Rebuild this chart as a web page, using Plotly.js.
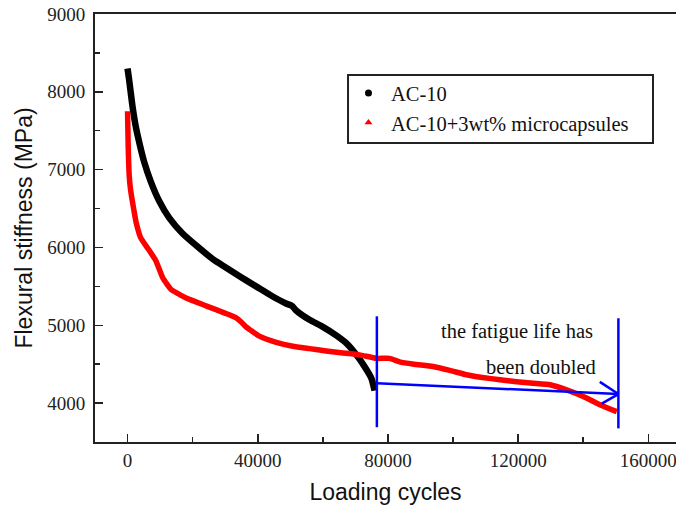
<!DOCTYPE html>
<html><head><meta charset="utf-8">
<script src="https://cdn.plot.ly/plotly-3.0.1.min.js"></script>
<style>html,body{margin:0;padding:0;background:#fff}#chart{width:676px;height:510px}</style>
</head><body><div id="chart"></div>
<script>
// AC-10 series (loading cycles, flexural stiffness MPa)
var acCycles = [0, 500, 1500, 2500, 3600, 5100, 7200, 9800, 12800, 16900, 22100, 26200, 30300, 34400, 39500, 44600, 48700, 50500, 51800, 55900, 60000, 64100, 67200, 70300, 72800, 74900, 75900];
var acStiff  = [8300, 8150, 7820, 7560, 7350, 7100, 6840, 6590, 6380, 6180, 5990, 5850, 5740, 5630, 5500, 5370, 5280, 5250, 5190, 5070, 4980, 4870, 4770, 4620, 4470, 4320, 4160];
// AC-10 + 3wt% microcapsules series
var mcCycles = [0, 200, 500, 900, 1500, 2600, 4100, 6200, 8700, 10800, 13400, 18000, 24100, 30300, 33400, 35000, 36400, 40500, 45700, 50800, 55900, 61000, 66200, 71300, 76400, 80500, 83600, 88000, 93800, 99000, 104100, 109000, 114400, 119500, 124600, 129800, 134900, 140000, 145100, 150300];
var mcStiff  = [7750, 7300, 6930, 6750, 6590, 6330, 6120, 5990, 5830, 5610, 5460, 5350, 5250, 5150, 5095, 5040, 4980, 4860, 4780, 4730, 4700, 4670, 4645, 4620, 4575, 4575, 4530, 4500, 4470, 4420, 4365, 4330, 4300, 4275, 4255, 4235, 4170, 4085, 3980, 3890];
var seriesNames = ["AC-10", "AC-10+3wt% microcapsules"];
var xTicks = [0, 40000, 80000, 120000, 160000];
var yTicks = [4000, 5000, 6000, 7000, 8000, 9000];
// fatigue-life markers (cycles at failure) and annotation text
var failCycles = [76600, 150800];
var noteLines = ["the fatigue life has", "been doubled"];

var serif = "Liberation Serif, Times New Roman, serif";
var sans = "Liberation Sans, Arial, sans-serif";

var traces = [
  {x: acCycles, y: acStiff, mode: "lines", line: {color: "#000", width: 6.5, shape: "spline", smoothing: 0.6}, showlegend: false, hoverinfo: "skip"},
  {x: mcCycles, y: mcStiff, mode: "lines", line: {color: "#ff0000", width: 5.5, shape: "spline", smoothing: 0.4}, showlegend: false, hoverinfo: "skip"},
  {x: [null], y: [null], mode: "markers", name: seriesNames[0], marker: {color: "#000", size: 7, symbol: "circle"}},
  {x: [null], y: [null], mode: "markers", name: seriesNames[1], marker: {color: "#ff0000", size: 7, symbol: "triangle-up"}}
];

var blue = "#0000ff";
var shapes = [
  {type: "line", xref: "x", yref: "y", x0: failCycles[0], x1: failCycles[0], y0: 3690, y1: 5115, line: {color: blue, width: 2.5}},
  {type: "line", xref: "x", yref: "y", x0: failCycles[1], x1: failCycles[1], y0: 3675, y1: 5090, line: {color: blue, width: 2.5}},
  {type: "line", xref: "x", yref: "y", x0: failCycles[0], x1: failCycles[1], y0: 4256, y1: 4116, line: {color: blue, width: 2.5}},
  {type: "line", xref: "x", yref: "y", x0: 145100, x1: failCycles[1], y0: 4273, y1: 4116, line: {color: blue, width: 2.5}},
  {type: "line", xref: "x", yref: "y", x0: 145700, x1: failCycles[1], y0: 3993, y1: 4116, line: {color: blue, width: 2.5}},
  // legend frame
  {type: "rect", xref: "paper", yref: "paper", x0: 0.4355, x1: 0.9604, y0: 0.6986, y1: 0.8575, line: {color: "#222", width: 2}, fillcolor: "rgba(0,0,0,0)", layer: "above"}
];

var layout = {
  width: 676, height: 510,
  margin: {l: 95, r: 0, t: 14, b: 68},
  paper_bgcolor: "#fff", plot_bgcolor: "#fff",
  showlegend: true,
  xaxis: {
    range: [-10000, 168500], tickvals: xTicks, tickformat: "d",
    ticks: "inside", ticklen: 8, tickwidth: 1.5, tickcolor: "#222",
    minor: {dtick: 20000, tick0: 0, ticks: "inside", ticklen: 5, tickwidth: 1.5, tickcolor: "#222"},
    showline: true, linecolor: "#222", linewidth: 2, mirror: true,
    showgrid: false, zeroline: false,
    tickfont: {family: serif, size: 19, color: "#222"},
    ticklabelstandoff: 0, ticklabeloverflow: "allow",
    title: {text: "Loading cycles", font: {family: sans, size: 23, color: "#111"}, standoff: 14},
    automargin: false
  },
  yaxis: {
    range: [3500, 9000], tickvals: yTicks,
    ticks: "inside", ticklen: 8, tickwidth: 1.5, tickcolor: "#222",
    minor: {dtick: 500, tick0: 3500, ticks: "inside", ticklen: 5, tickwidth: 1.5, tickcolor: "#222"},
    showline: true, linecolor: "#222", linewidth: 2, mirror: false,
    showgrid: false, zeroline: false,
    tickfont: {family: serif, size: 19, color: "#222"},
    ticklabelstandoff: 4,
    title: {text: "Flexural stiffness (MPa)", font: {family: sans, size: 23, color: "#111"}, standoff: 8},
    automargin: false
  },
  legend: {
    x: 0.432, y: 0.862, xanchor: "left", yanchor: "top",
    borderwidth: 0, bgcolor: "rgba(255,255,255,0)",
    font: {family: serif, size: 20.5, color: "#111"},
    tracegroupgap: 0, itemwidth: 35
  },
  shapes: shapes,
  annotations: [
    {xref: "x", yref: "y", x: 143600, y: 4915, text: noteLines[0], showarrow: false, xanchor: "right", yanchor: "middle", font: {family: serif, size: 20.5, color: "#111"}},
    {xref: "x", yref: "y", x: 144500, y: 4470, text: noteLines[1], showarrow: false, xanchor: "right", yanchor: "middle", font: {family: serif, size: 20.5, color: "#111"}}
  ]
};

Plotly.newPlot("chart", traces, layout, {displayModeBar: false, staticPlot: true});
</script>
</body></html>
